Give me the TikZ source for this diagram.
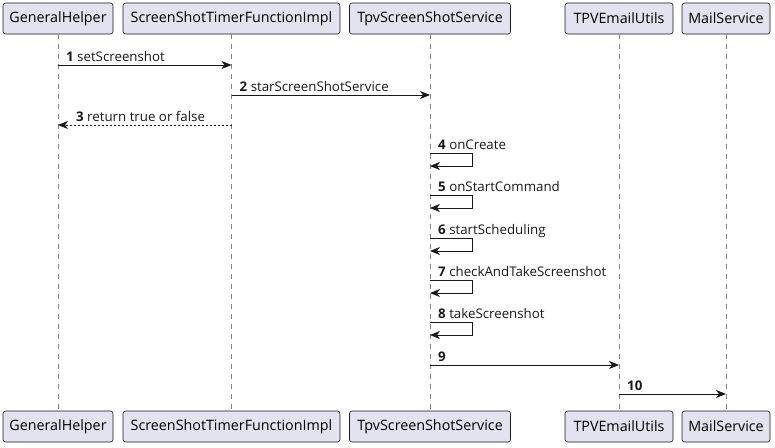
\documentclass[tikz,border=0pt]{standalone}
\usepackage{fontspec}
\setmainfont{Open Sans}
\usetikzlibrary{arrows.meta,calc}
\definecolor{boxfill}{RGB}{226,226,240}
\definecolor{ink}{RGB}{24,24,24}
\definecolor{lifeln}{RGB}{130,130,130}
\tikzset{
  part/.style={draw=ink, fill=boxfill, rounded corners=2.5pt, line width=0.6pt, minimum height=31pt, inner sep=0pt, font=\fontsize{14.3}{16}\selectfont},
  life/.style={draw=lifeln, line width=0.6pt, dash pattern=on 5pt off 5pt},
  msg/.style={draw=ink, line width=0.9pt, -{Stealth[length=10pt,width=8pt,inset=3pt]}},
  ret/.style={msg, dash pattern=on 2pt off 2pt},
  lbl/.style={anchor=base west, inner sep=0pt, font=\fontsize{13.3}{15}\selectfont, text=ink}
}
\begin{document}
\begin{tikzpicture}[x=1pt,y=-1pt]
\useasboundingbox (0,0) rectangle (775,447);
% top boxes
\node[part, minimum width=110pt] (GH) at (58,18.5) {GeneralHelper};
\node[part, minimum width=217pt] (ST) at (231.5,18.5) {ScreenShotTimerFunctionImpl};
\node[part, minimum width=161pt] (TS) at (430,18.5) {TpvScreenShotService};
\node[part, minimum width=108pt] (TE) at (619,18.5) {TPVEmailUtils};
\node[part, minimum width=88pt] (MS) at (726,18.5) {MailService};
% bottom boxes
\node[part, minimum width=110pt] (GHb) at (58,426.5) {GeneralHelper};
\node[part, minimum width=217pt] (STb) at (231.5,426.5) {ScreenShotTimerFunctionImpl};
\node[part, minimum width=161pt] (TSb) at (430,426.5) {TpvScreenShotService};
\node[part, minimum width=108pt] (TEb) at (619,426.5) {TPVEmailUtils};
\node[part, minimum width=88pt] (MSb) at (726,426.5) {MailService};
% lifelines
\draw[life] (GH.south) -- (GHb.north);
\draw[life] (ST.south) -- (STb.north);
\draw[life] (TS.south) -- (TSb.north);
\draw[life] (TE.south) -- (TEb.north);
\draw[life] (MS.south) -- (MSb.north);
% 1
\draw[msg] (GH.south |- 0,65) -- (ST.south |- 0,65);
\node[lbl] (l1) at ($(GH.south |- 0,61)+(8,0)$) {\textbf{1} setScreenshot};
% 2
\draw[msg] (ST.south |- 0,95) -- (TS.south |- 0,95);
\node[lbl] (l2) at ($(ST.south |- 0,91)+(8,0)$) {\textbf{2} starScreenShotService};
% 3
\draw[ret] (ST.south |- 0,125) -- (GH.south |- 0,125);
\node[lbl] (l3) at ($(GH.south |- 0,121)+(18,0)$) {\textbf{3} return true or false};
% self messages
\foreach \y/\n/\t in {153/4/onCreate,195/5/onStartCommand,238/6/startScheduling,280/7/checkAndTakeScreenshot,322/8/takeScreenshot}{
  \node[lbl] (s\n) at ($(TS.south |- 0,\y)+(8,-4)$) {\textbf{\n} \t};
  \draw[msg] (TS.south |- 0,\y) -- ++(42,0) -- ++(0,13) -- ($(TS.south |- 0,\y)+(0,13)$);
}
% 9
\draw[msg] (TS.south |- 0,365) -- (TE.south |- 0,365);
\node[lbl] (l9) at ($(TS.south |- 0,361)+(8,0)$) {\textbf{9}};
% 10
\draw[msg] (TE.south |- 0,394) -- (MS.south |- 0,394);
\node[lbl] (l10) at ($(TE.south |- 0,390)+(8,0)$) {\textbf{10}};
\end{tikzpicture}
\end{document}
